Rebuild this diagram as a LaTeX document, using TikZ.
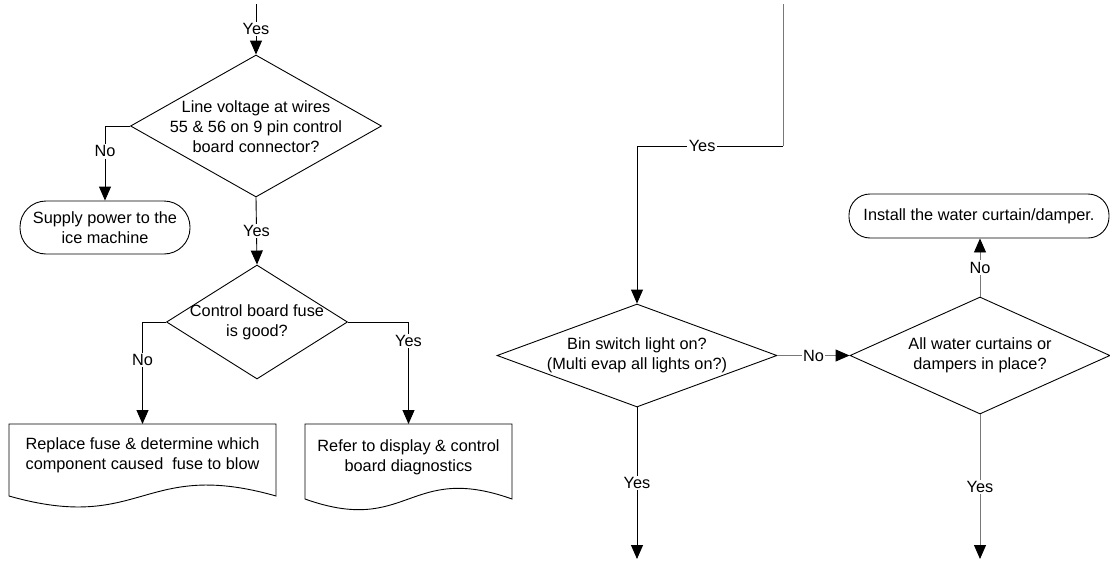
\documentclass[tikz,border=0pt]{standalone}
\usepackage{fontspec}
\setmainfont{Liberation Sans}
\usetikzlibrary{shapes.geometric,arrows.meta,calc}
\definecolor{lgray}{RGB}{120,120,120}
\begin{document}
\begin{tikzpicture}[x=1pt,y=-1pt,
  every node/.style={font=\fontsize{16.3}{20}\selectfont},
  ln/.style={line width=0.9pt, draw=black},
  gln/.style={line width=0.9pt, draw=lgray},
  arr/.style={ln, -{Triangle[length=14pt,width=12pt,color=black]}},
  garr/.style={gln, -{Triangle[length=14pt,width=12pt,color=black]}},
  dia/.style={draw, diamond, inner sep=0pt, line width=0.9pt},
  txt/.style={align=center, inner sep=0pt},
  term/.style={draw, rectangle, line width=0.9pt, inner sep=0pt, align=center},
  docb/.style={rectangle, inner sep=0pt, outer sep=0pt},
  lab/.style={fill=white, inner sep=1.5pt}
]
\useasboundingbox (0,0) rectangle (1110,562);

% ---------- left part ----------
\coordinate (s1) at (256,4);
\node[dia, minimum width=251pt, minimum height=142pt] (d1) at (256,126) {};
\node[txt] (d1t) at (256,127) {Line voltage at wires\\55 \& 56 on 9 pin control\\board connector?};

\node[term, minimum width=170pt, minimum height=53pt, rounded corners=26pt] (t1) at (105,227.5) {Supply power to the\\ice machine};

\node[dia, minimum width=181pt, minimum height=114pt] (d2) at (257,322) {};
\node[txt] (d2t) at (257,322) {Control board fuse\\is good?};

\node[docb, minimum width=267pt, minimum height=72pt] (doc1) at (142.5,460) {};
\draw[ln] (doc1.north west) -- (doc1.north east) -- (doc1.south east)
  .. controls ($(doc1.south)+(0,-38)$) and ($(doc1.south)+(0,38)$) .. (doc1.south west) -- cycle;
\node[txt] (doc1t) at (142.5,455) {Replace fuse \& determine which\\component caused\ \ fuse to blow};

\node[docb, minimum width=207pt, minimum height=75pt] (doc2) at (408.5,461.5) {};
\draw[ln] (doc2.north west) -- (doc2.north east) -- (doc2.south east)
  .. controls ($(doc2.south)+(0,-37)$) and ($(doc2.south)+(0,37)$) .. (doc2.south west) -- cycle;
\node[txt] (doc2t) at (408.5,457) {Refer to display \& control\\board diagnostics};

\draw[arr] (s1) -- node[lab]{Yes} (d1.north);
\draw[arr] (d1.west) -| node[lab, pos=0.67]{No} (t1.north);
\draw[arr] (d1.south) -- node[lab]{Yes} (d2.north);
\draw[arr] (d2.west) -| node[lab, pos=0.686]{No} (doc1.north);
\draw[arr] (d2.east) -| node[lab, pos=0.593]{Yes} (doc2.north);

% ---------- right part ----------
\coordinate (s2) at (783,4);
\coordinate (k1) at (783,146);
\node[dia, minimum width=280pt, minimum height=103pt] (d3) at (637,355.5) {};
\node[txt] (d3t) at (637,355.5) {Bin switch light on?\\(Multi evap all lights on?)};

\node[dia, minimum width=260pt, minimum height=117pt] (d4) at (980,355.5) {};
\node[txt] (d4t) at (980,355.5) {All water curtains or\\dampers in place?};

\node[term, minimum width=260pt, minimum height=44pt, rounded corners=21pt] (t2) at (979,216) {Install the water curtain/damper.};

\coordinate (e1) at (637,559);
\coordinate (e2) at (980,559);

\draw[gln] (s2) -- (k1);
\draw[arr] (k1) -| node[lab, pos=0.277]{Yes} (d3.north);
\draw[garr] (d3.east) -- node[lab]{No} (d4.west);
\draw[garr] (d4.north) -- node[lab]{No} (d4.north |- t2.south);
\draw[arr] (d3.south) -- node[lab]{Yes} (e1);
\draw[garr] (d4.south) -- node[lab]{Yes} (e2);
\end{tikzpicture}
\end{document}
